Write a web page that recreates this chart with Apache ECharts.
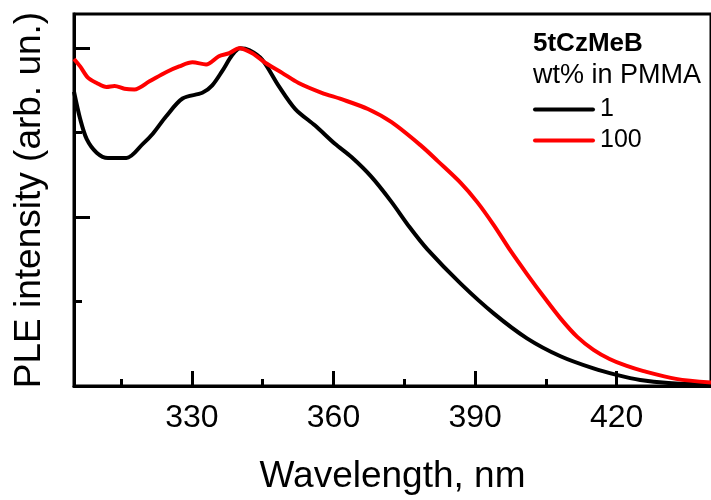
<!DOCTYPE html>
<html lang="en">
<head>
    <meta charset="UTF-8">
    <script src="https://cdn.jsdelivr.net/npm/echarts@6/dist/echarts.min.js"></script>
    <style>
        * { margin: 0; padding: 0; }
        #chart { width: 711px; height: 500px; background: #fff; }
    </style>
</head>
<body>
<div id="chart"></div>
<script>
    // 1 wt% in PMMA (black)
    var wl1 = [305, 306.3, 307.7, 309.8, 312.2, 316.1, 319.6, 321.7, 324.5, 328, 332.2, 334.3, 336.4, 338.6, 340.2, 342.2,
        344.9, 348.4, 351.9, 356.1, 360.3, 363.8, 368, 372.2, 376.1, 379.9, 387, 394, 401, 408.1, 415.1, 420, 425, 431, 440];
    var int1 = [0.87, 0.79, 0.73, 0.69, 0.674, 0.674, 0.716, 0.746, 0.797, 0.85, 0.867, 0.889, 0.931, 0.98, 0.999, 0.993,
        0.965, 0.887, 0.819, 0.77, 0.716, 0.677, 0.619, 0.546, 0.47, 0.404, 0.302, 0.214, 0.141, 0.088, 0.052, 0.033, 0.018, 0.009, 0.004];

    // 100 wt% (red)
    var wl2 = [305, 306.3, 308, 309.8, 311.9, 313.6, 315.7, 317.8, 321, 324.5, 327.3, 330.1, 333, 335.7, 337.9, 340, 342.8,
        345.6, 349.1, 352.6, 357.5, 361.7, 367.3, 372.3, 378.6, 382.1, 387, 390.5, 394, 397.5, 401, 404.6, 408.1, 411.6,
        415.1, 418.5, 422, 425.7, 432.6, 440];
    var int2 = [0.967, 0.945, 0.911, 0.896, 0.884, 0.887, 0.879, 0.877, 0.901, 0.928, 0.945, 0.957, 0.951, 0.975, 0.984, 0.999, 0.984,
        0.955, 0.926, 0.896, 0.867, 0.848, 0.819, 0.78, 0.71, 0.665, 0.6, 0.543, 0.475, 0.4, 0.331, 0.263, 0.2, 0.146,
        0.107, 0.08, 0.06, 0.044, 0.021, 0.01];

    var xMajor = [330, 360, 390, 420];
    var xMinor = [315, 345, 375, 405, 435];
    var yMajor = [0.5, 1];
    var yMinor = [0.25, 0.75];
    var seriesNames = ['1', '100'];

    var font = 'Liberation Sans, Arial, sans-serif';

    function pairs(xs, ys) {
        var out = [];
        for (var i = 0; i < xs.length; i++) {
            out.push([xs[i], ys[i]]);
        }
        return out;
    }

    var myChart = echarts.init(document.getElementById('chart'));

    var option = {
        animation: false,
        backgroundColor: '#fff',
        title: {
            text: '5tCzMeB',
            subtext: 'wt% in PMMA',
            left: 533,
            top: 31,
            itemGap: 5,
            padding: 0,
            textStyle: { color: '#000', fontFamily: font, fontWeight: 'bold', fontSize: 26 },
            subtextStyle: { color: '#000', fontFamily: font, fontSize: 27 }
        },
        legend: {
            orient: 'vertical',
            left: 533,
            top: 97,
            padding: 0,
            icon: 'path://M2,0 L60,0 A2,2 0 0 1 60,4 L2,4 A2,2 0 0 1 2,0 Z',
            itemWidth: 62,
            itemHeight: 4,
            itemGap: 6,
            textStyle: { color: '#000', fontFamily: font, fontSize: 25, lineHeight: 25 },
            data: seriesNames
        },
        grid: {
            left: 74,
            top: 14,
            width: 641,
            bottom: 110,
            show: true,
            borderColor: '#000',
            borderWidth: 3
        },
        xAxis: [{
            type: 'value',
            min: 305,
            max: 440,
            name: 'Wavelength, nm',
            nameLocation: 'middle',
            nameGap: 72,
            nameTextStyle: { color: '#000', fontFamily: font, fontSize: 37 },
            axisLine: { show: true, onZero: false, lineStyle: { color: '#000', width: 3 } },
            axisTick: { show: true, inside: true, length: 15, customValues: xMajor, lineStyle: { color: '#000', width: 3 } },
            axisLabel: { show: true, margin: 16, customValues: xMajor, color: '#000', fontFamily: font, fontSize: 32 },
            splitLine: { show: false }
        }, {
            type: 'value',
            min: 305,
            max: 440,
            position: 'bottom',
            axisLine: { show: false },
            axisTick: { show: true, inside: true, length: 7, customValues: xMinor, lineStyle: { color: '#000', width: 3 } },
            axisLabel: { show: false },
            splitLine: { show: false }
        }],
        yAxis: [{
            type: 'value',
            min: 0,
            max: 1.1,
            name: 'PLE intensity (arb. un.)',
            nameLocation: 'middle',
            nameRotate: 90,
            nameGap: 26,
            nameTextStyle: { color: '#000', fontFamily: font, fontSize: 37 },
            axisLine: { show: true, onZero: false, lineStyle: { color: '#000', width: 3 } },
            axisTick: { show: true, inside: true, length: 16, customValues: yMajor, lineStyle: { color: '#000', width: 3 } },
            axisLabel: { show: false },
            splitLine: { show: false }
        }, {
            type: 'value',
            min: 0,
            max: 1.1,
            position: 'left',
            axisLine: { show: false },
            axisTick: { show: true, inside: true, length: 8, customValues: yMinor, lineStyle: { color: '#000', width: 3 } },
            axisLabel: { show: false },
            splitLine: { show: false }
        }],
        series: [{
            name: seriesNames[0],
            type: 'line',
            xAxisIndex: 0,
            yAxisIndex: 0,
            data: pairs(wl1, int1),
            smooth: 0.3,
            showSymbol: false,
            symbol: 'none',
            clip: true,
            color: '#000',
            lineStyle: { color: '#000', width: 4 }
        }, {
            name: seriesNames[1],
            type: 'line',
            xAxisIndex: 0,
            yAxisIndex: 0,
            data: pairs(wl2, int2),
            smooth: 0.3,
            showSymbol: false,
            symbol: 'none',
            clip: true,
            color: '#ff0000',
            lineStyle: { color: '#ff0000', width: 4 }
        }]
    };

    myChart.setOption(option);
</script>
</body>
</html>
